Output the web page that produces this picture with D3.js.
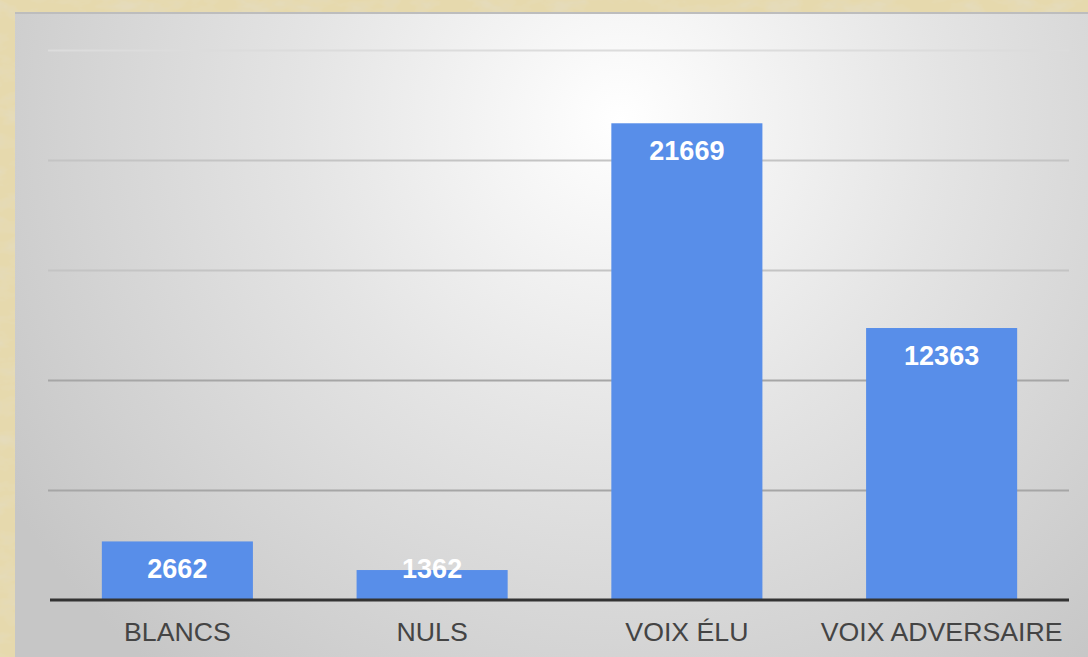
<!DOCTYPE html>
<html>
<head>
<meta charset="utf-8">
<script src="https://cdn.jsdelivr.net/npm/d3@7"></script>
<style>
  html, body { margin: 0; padding: 0; background: #e3d6a9; }
  svg { display: block; }
</style>
</head>
<body>
<div id="chart"></div>
<script>
// Data
var categories = ["BLANCS", "NULS", "VOIX ÉLU", "VOIX ADVERSAIRE"];
var votes = [2662, 1362, 21669, 12363];
var gridTicks = [0, 5000, 10000, 15000, 20000, 25000];

var width = 1088, height = 657;

var svg = d3.select("#chart").append("svg")
    .attr("width", width)
    .attr("height", height);

var defs = svg.append("defs");

// parchment texture
var paper = defs.append("filter").attr("id", "paper")
    .attr("x", 0).attr("y", 0).attr("width", "100%").attr("height", "100%");
paper.append("feTurbulence")
    .attr("type", "fractalNoise")
    .attr("baseFrequency", "0.03 0.06")
    .attr("numOctaves", 4)
    .attr("seed", 7)
    .attr("result", "noise");
paper.append("feColorMatrix")
    .attr("in", "noise")
    .attr("type", "matrix")
    .attr("values", "0 0 0 0 0.78  0 0 0 0 0.71  0 0 0 0 0.50  0 0 0 -2.4 1.35")
    .attr("result", "tint");
paper.append("feComposite").attr("in", "tint").attr("in2", "SourceGraphic").attr("operator", "over");

// grey panel gradient
var grad = defs.append("radialGradient").attr("id", "panelGrad")
    .attr("gradientUnits", "userSpaceOnUse")
    .attr("cx", 620).attr("cy", 120).attr("r", 720)
    .attr("fx", 620).attr("fy", 120);
grad.append("stop").attr("offset", "0%").attr("stop-color", "#ffffff");
grad.append("stop").attr("offset", "45%").attr("stop-color", "#e4e4e4");
grad.append("stop").attr("offset", "100%").attr("stop-color", "#c6c6c6");

svg.append("rect")
    .attr("width", width).attr("height", height)
    .attr("fill", "#e6d9ad")
    .attr("filter", "url(#paper)");

svg.append("rect")
    .attr("x", 15).attr("y", 12)
    .attr("width", width - 15).attr("height", height - 12)
    .attr("fill", "url(#panelGrad)");
svg.append("line")
    .attr("x1", 15).attr("x2", width).attr("y1", 13).attr("y2", 13)
    .attr("stroke", "#bdbdbd").attr("stroke-width", 2);

// Scales
var xScale = d3.scaleBand()
    .domain(categories)
    .range([50, 1069])
    .paddingInner(0.407)
    .paddingOuter(0.2035);

var yScale = d3.scaleLinear()
    .domain([0, 25000])
    .range([600, 50]);

// Gridlines
var grid = d3.axisLeft(yScale)
    .tickValues(gridTicks.slice(1))
    .tickSize(-(1069 - 48))
    .tickFormat("");

var gGrid = svg.append("g")
    .attr("transform", "translate(48,0)")
    .call(grid);
gGrid.select(".domain").remove();
gGrid.selectAll(".tick line")
    .attr("stroke", d => d >= 25000 ? "#dcdcdc" : d >= 15000 ? "#c4c4c4" : "#a6a6a6")
    .attr("stroke-width", 2);

// Bars
svg.selectAll(".bar")
    .data(votes)
    .enter()
    .append("rect")
    .attr("class", "bar")
    .attr("x", (d, i) => xScale(categories[i]))
    .attr("y", d => yScale(d))
    .attr("width", xScale.bandwidth())
    .attr("height", d => 600 - yScale(d))
    .attr("fill", "#588ee9");

// Value labels (kept inside the plot for short bars)
svg.selectAll(".val")
    .data(votes)
    .enter()
    .append("text")
    .attr("class", "val")
    .attr("x", (d, i) => xScale(categories[i]) + xScale.bandwidth() / 2)
    .attr("y", d => Math.min(yScale(d) + 37, 578))
    .attr("text-anchor", "middle")
    .attr("font-family", "Liberation Sans, Arial, sans-serif")
    .attr("font-weight", "bold")
    .attr("font-size", 27)
    .attr("fill", "#ffffff")
    .text(d => d);

// X axis
var xAxis = d3.axisBottom(xScale).tickSize(0).tickPadding(22);
var gx = svg.append("g")
    .attr("transform", "translate(0,600)")
    .call(xAxis);
gx.select(".domain")
    .attr("d", "M50,0H1069")
    .attr("stroke", "#333333")
    .attr("stroke-width", 3);
gx.selectAll(".tick text")
    .attr("font-family", "Liberation Sans, Arial, sans-serif")
    .attr("font-size", 26.7)
    .attr("fill", "#444444");
</script>
</body>
</html>
